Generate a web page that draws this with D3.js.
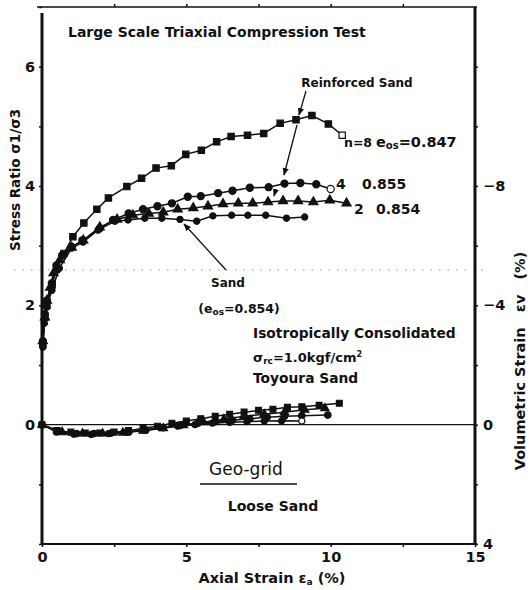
<!DOCTYPE html>
<html lang="en">
<head>
  <meta charset="UTF-8">
  <title>Large Scale Triaxial Compression Test</title>
  <style>
    body {
      margin: 0;
      padding: 0;
      background: white;
    }
    text {
      font-family: "DejaVu Sans", sans-serif;
      font-weight: bold;
      fill: #111;
    }
  </style>
</head>
<body>
<svg width="532" height="590"></svg>
<script src="https://d3js.org/d3.v7.min.js"></script>
<script>
// stress ratio curves (axial strain %, sigma1/sigma3)
const n8Strain = [0.03, 0.1, 0.17, 0.35, 0.5, 0.76, 1.07, 1.45, 1.9, 2.3, 2.94, 3.45, 3.95, 4.48, 4.98, 5.52, 6.05, 6.55, 7.12, 7.68, 8.25, 8.8, 9.35, 9.92, 10.4];
const n8Ratio  = [1.35, 1.8, 2.0, 2.34, 2.6, 2.87, 3.15, 3.38, 3.61, 3.8, 3.99, 4.13, 4.3, 4.34, 4.53, 4.6, 4.74, 4.83, 4.85, 4.88, 5.05, 5.11, 5.18, 5.04, 4.85];

const n4Strain = [0.03, 0.1, 0.17, 0.34, 0.5, 0.7, 1.03, 1.4, 2.0, 2.46, 3.0, 3.5, 4.0, 4.5, 5.05, 5.5, 6.1, 6.6, 7.2, 7.85, 8.4, 8.95, 9.5, 10.0];
const n4Ratio  = [1.4, 1.85, 2.08, 2.37, 2.67, 2.84, 2.98, 3.09, 3.29, 3.43, 3.54, 3.61, 3.66, 3.71, 3.82, 3.83, 3.88, 3.92, 3.97, 3.98, 4.04, 4.05, 4.03, 3.95];

const n2Strain = [0.03, 0.1, 0.17, 0.28, 0.4, 0.62, 1.03, 1.43, 2.0, 2.6, 3.15, 3.7, 4.2, 4.7, 5.24, 5.75, 6.27, 6.8, 7.3, 7.83, 8.35, 8.87, 9.4, 9.97, 10.55];
const n2Ratio  = [1.4, 1.8, 2.08, 2.3, 2.54, 2.76, 2.97, 3.09, 3.31, 3.44, 3.51, 3.54, 3.56, 3.61, 3.63, 3.66, 3.7, 3.71, 3.71, 3.73, 3.75, 3.75, 3.73, 3.76, 3.71];

const sandStrain = [0.03, 0.08, 0.17, 0.34, 0.6, 1.03, 1.42, 1.94, 2.53, 2.98, 3.56, 4.15, 4.78, 5.36, 5.92, 6.57, 7.13, 7.75, 8.47, 9.1];
const sandRatio  = [1.3, 1.7, 1.97, 2.25, 2.62, 2.96, 3.06, 3.26, 3.41, 3.43, 3.46, 3.46, 3.44, 3.41, 3.5, 3.51, 3.51, 3.51, 3.46, 3.48];

// volumetric strain curves (axial strain %, ev %)
const n8VolStrain = [0, 0.5, 1.0, 1.5, 2.0, 2.5, 3.0, 3.5, 4.0, 4.5, 5.0, 5.5, 6.0, 6.5, 7.0, 7.5, 8.0, 8.5, 9.0, 9.6, 10.3];
const n8Vol       = [0, 0.2, 0.25, 0.28, 0.28, 0.25, 0.2, 0.12, 0.05, -0.05, -0.12, -0.2, -0.28, -0.35, -0.42, -0.48, -0.52, -0.58, -0.6, -0.65, -0.72];
const n4VolStrain = [0, 0.6, 1.2, 1.8, 2.4, 3.0, 3.6, 4.2, 4.8, 5.4, 6.0, 6.6, 7.2, 7.8, 8.4, 9.0, 9.9];
const n4Vol       = [0, 0.22, 0.3, 0.3, 0.28, 0.25, 0.18, 0.1, 0.02, -0.05, -0.1, -0.15, -0.2, -0.25, -0.28, -0.3, -0.32];
const n2VolStrain = [0, 0.7, 1.4, 2.1, 2.8, 3.5, 4.2, 4.9, 5.6, 6.3, 7.0, 7.7, 8.4, 9.1, 9.8];
const n2Vol       = [0, 0.25, 0.3, 0.3, 0.27, 0.2, 0.12, 0.02, -0.08, -0.18, -0.28, -0.35, -0.42, -0.5, -0.55];
const sandVolStrain = [0, 0.5, 1.1, 1.7, 2.3, 2.9, 3.5, 4.1, 4.7, 5.3, 5.9, 6.5, 7.1, 7.7, 8.3, 9.0];
const sandVol       = [0, 0.25, 0.32, 0.33, 0.3, 0.25, 0.18, 0.1, 0.05, 0, -0.05, -0.08, -0.1, -0.12, -0.13, -0.12];

const xTicks = [0, 2.5, 5, 7.5, 10, 12.5, 15];
const xLabels = [0, 5, 10, 15];
const yLeftTicks = [-2, -1, 0, 1, 2, 3, 4, 5, 6, 7];
const yLeftLabels = [0, 2, 4, 6];
const yRightTicks = [-12, -10, -8, -6, -4, -2, 0, 2, 4];
const yRightLabels = [-8, -4, 0, 4];

const svg = d3.select("svg");

const x = d3.scaleLinear().domain([0, 15]).range([42, 475]);
const y = d3.scaleLinear().domain([-2, 7]).range([544, 7]);
const yv = d3.scaleLinear().domain([4, -14]).range([544, 7]);

// faint scan fold line
svg.append("line")
  .attr("x1", 14).attr("x2", 488)
  .attr("y1", 270).attr("y2", 270)
  .attr("stroke", "#999")
  .attr("stroke-width", 1)
  .attr("stroke-dasharray", "1.5,7");

// frame
svg.append("line").attr("x1", 37).attr("x2", 477).attr("y1", 7).attr("y2", 7)
  .attr("stroke", "#111").attr("stroke-width", 1.5);
svg.append("line").attr("x1", 42).attr("x2", 42).attr("y1", 13).attr("y2", 545)
  .attr("stroke", "#111").attr("stroke-width", 3);
svg.append("line").attr("x1", 475).attr("x2", 475).attr("y1", 7).attr("y2", 545)
  .attr("stroke", "#111").attr("stroke-width", 3);
svg.append("line").attr("x1", 41).attr("x2", 477).attr("y1", 544).attr("y2", 544)
  .attr("stroke", "#111").attr("stroke-width", 2);

// ev = 0 reference line
svg.append("line").attr("x1", 42).attr("x2", 475).attr("y1", yv(0)).attr("y2", yv(0))
  .attr("stroke", "#111").attr("stroke-width", 1.2);

// axes
const fmt = d => d < 0 ? "\u2212" + Math.abs(d) : d;

const leftAxis = svg.append("g").attr("transform", "translate(42,0)")
  .call(d3.axisLeft(y).tickValues(yLeftTicks).tickSize(3)
    .tickFormat(d => yLeftLabels.includes(d) ? d : ""));
const bottomAxis = svg.append("g").attr("transform", "translate(0,544)")
  .call(d3.axisBottom(x).tickValues(xTicks).tickSize(3)
    .tickFormat(d => xLabels.includes(d) ? d : ""));
const topAxis = svg.append("g").attr("transform", "translate(0,7)")
  .call(d3.axisTop(x).tickValues(xTicks.slice(1, -1)).tickSize(3).tickFormat(""));
const rightAxis = svg.append("g").attr("transform", "translate(475,0)")
  .call(d3.axisRight(yv).tickValues(yRightTicks).tickSize(3)
    .tickFormat(d => yRightLabels.includes(d) ? fmt(d) : ""));

[leftAxis, bottomAxis, topAxis, rightAxis].forEach(g => {
  g.select(".domain").remove();
  g.selectAll("line").attr("stroke", "#111").attr("stroke-width", 1.5);
  g.selectAll("text").style("font-size", "14.5px").attr("fill", "#111");
});
leftAxis.selectAll("text").attr("x", -7);
bottomAxis.selectAll("text").attr("y", 8);
rightAxis.selectAll("text").attr("x", 8);

// curves
const line = d3.line().x(d => x(d[0])).y(d => y(d[1]));
const lineV = d3.line().x(d => x(d[0])).y(d => yv(d[1]));

const series = [
  {strain: n8Strain, val: n8Ratio, sym: d3.symbolSquare, size: 40, openLast: true, scale: y, path: line},
  {strain: n4Strain, val: n4Ratio, sym: d3.symbolCircle, size: 40, openLast: true, scale: y, path: line},
  {strain: n2Strain, val: n2Ratio, sym: d3.symbolTriangle, size: 36, openLast: false, scale: y, path: line},
  {strain: sandStrain, val: sandRatio, sym: d3.symbolCircle, size: 30, openLast: false, scale: y, path: line},
  {strain: n8VolStrain, val: n8Vol, sym: d3.symbolSquare, size: 34, openLast: false, scale: yv, path: lineV},
  {strain: n4VolStrain, val: n4Vol, sym: d3.symbolCircle, size: 34, openLast: false, scale: yv, path: lineV},
  {strain: n2VolStrain, val: n2Vol, sym: d3.symbolTriangle, size: 30, openLast: false, scale: yv, path: lineV},
  {strain: sandVolStrain, val: sandVol, sym: d3.symbolCircle, size: 30, openLast: true, scale: yv, path: lineV}
];

series.forEach(s => {
  const pts = s.strain.map((v, i) => [v, s.val[i]]);
  svg.append("path")
    .attr("d", s.path(pts))
    .attr("fill", "none")
    .attr("stroke", "#111")
    .attr("stroke-width", 1.5);
  svg.append("g").selectAll("path")
    .data(pts)
    .join("path")
    .attr("transform", d => "translate(" + x(d[0]) + "," + s.scale(d[1]) + ")")
    .attr("d", d3.symbol().type(s.sym).size(s.size))
    .attr("fill", (d, i) => s.openLast && i === pts.length - 1 ? "white" : "#111")
    .attr("stroke", "#111")
    .attr("stroke-width", 1.2);
});

// arrows
svg.append("defs").append("marker")
  .attr("id", "head")
  .attr("viewBox", "0 0 10 10")
  .attr("refX", 9).attr("refY", 5)
  .attr("markerWidth", 6).attr("markerHeight", 6)
  .attr("orient", "auto")
  .append("path").attr("d", "M0,1 L10,5 L0,9 z").attr("fill", "#111");

const arrows = [
  [[306, 91], [299, 115]],
  [[297, 125], [284, 175]],
  [[276, 189], [274, 196]],
  [[226, 270], [184, 224]]
];
arrows.forEach(a => {
  svg.append("line")
    .attr("x1", a[0][0]).attr("y1", a[0][1])
    .attr("x2", a[1][0]).attr("y2", a[1][1])
    .attr("stroke", "#111").attr("stroke-width", 1.3)
    .attr("marker-end", "url(#head)");
});

// labels
function label(tx, ty, str, size, anchor) {
  return svg.append("text")
    .attr("x", tx).attr("y", ty)
    .attr("text-anchor", anchor || "start")
    .style("font-size", size + "px")
    .text(str);
}

label(68, 37, "Large Scale Triaxial Compression Test", 14);
label(357, 87, "Reinforced Sand", 12, "middle");

label(344, 147, "n=8", 12.5);
const e8 = label(376, 147, "e", 14.5);
e8.append("tspan").attr("dy", 2).style("font-size", "10px").text("os");
e8.append("tspan").attr("dy", -2).text("=0.847");
label(336, 189, "4", 14);
label(362, 189, "0.855", 14);
label(354, 214, "2", 14);
label(376, 214, "0.854", 14);

label(228, 287, "Sand", 12, "middle");
const es = label(239, 313, "(e", 12.5, "middle");
es.append("tspan").attr("dy", 2).style("font-size", "9px").text("os");
es.append("tspan").attr("dy", -2).text("=0.854)");

label(253, 338, "Isotropically Consolidated", 13.8);
const sg = label(253, 362, "\u03c3", 13);
sg.append("tspan").attr("dy", 2).style("font-size", "9px").text("rc");
sg.append("tspan").attr("dy", -2).text("=1.0kgf/cm");
sg.append("tspan").attr("dy", -5).style("font-size", "8px").text("2");
label(253, 383, "Toyoura Sand", 13.8);

label(246, 475, "Geo-grid", 17, "middle").style("font-weight", "normal");
svg.append("line").attr("x1", 200).attr("x2", 297).attr("y1", 484).attr("y2", 484)
  .attr("stroke", "#111").attr("stroke-width", 1.6);
label(273, 511, "Loose Sand", 14, "middle");

// axis titles
const xt = label(272, 583, "Axial Strain \u03b5", 14.5, "middle");
xt.append("tspan").attr("dy", 2).style("font-size", "9px").text("a");
xt.append("tspan").attr("dy", -2).text(" (%)");

svg.append("text")
  .attr("transform", "translate(20,180) rotate(-90)")
  .attr("text-anchor", "middle")
  .style("font-size", "13.5px")
  .text("Stress Ratio \u03c31/\u03c33");

svg.append("text")
  .attr("transform", "translate(525,361) rotate(-90)")
  .attr("text-anchor", "middle")
  .attr("xml:space", "preserve")
  .style("font-size", "14.5px")
  .style("white-space", "pre")
  .text("Volumetric Strain   \u03b5v   (%)");
</script>
</body>
</html>
